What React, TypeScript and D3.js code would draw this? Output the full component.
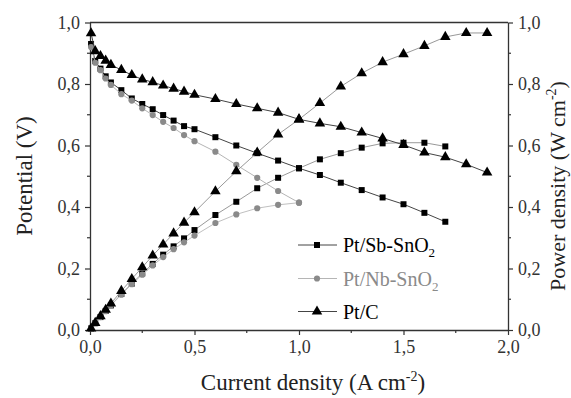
import React, { useRef, useEffect } from "react";
import * as d3 from "d3";

// current density (A cm-2)
const currentPtC = [0.005, 0.025, 0.05, 0.075, 0.1, 0.15, 0.2, 0.25, 0.3, 0.35, 0.4, 0.45, 0.5,
  0.6, 0.7, 0.8, 0.9, 1.0, 1.1, 1.2, 1.3, 1.4, 1.5, 1.6, 1.7, 1.8, 1.9];
const currentSb = currentPtC.slice(0, 25);
const currentNb = currentPtC.slice(0, 18);

// potential (V)
const potentialSb = [0.93, 0.875, 0.85, 0.825, 0.805, 0.78, 0.753, 0.735, 0.718, 0.699, 0.681, 0.663, 0.653,
  0.627, 0.6, 0.575, 0.551, 0.526, 0.504, 0.479, 0.455, 0.431, 0.409, 0.381, 0.352];
const potentialNb = [0.92, 0.869, 0.845, 0.818, 0.797, 0.767, 0.746, 0.721, 0.699, 0.677, 0.657, 0.634, 0.614,
  0.58, 0.537, 0.495, 0.452, 0.414];
const potentialPtC = [0.965, 0.907, 0.891, 0.876, 0.862, 0.846, 0.829, 0.815, 0.806, 0.795, 0.785, 0.775, 0.765,
  0.751, 0.735, 0.721, 0.707, 0.685, 0.672, 0.661, 0.642, 0.623, 0.602, 0.577, 0.562, 0.539, 0.512];

// power density (W cm-2)
const powerSb = [0.005, 0.022, 0.042, 0.062, 0.08, 0.117, 0.151, 0.184, 0.215, 0.245, 0.272, 0.298, 0.325,
  0.374, 0.417, 0.461, 0.495, 0.526, 0.555, 0.575, 0.593, 0.607, 0.609, 0.609, 0.597];
const powerNb = [0.005, 0.022, 0.042, 0.061, 0.08, 0.115, 0.149, 0.18, 0.21, 0.237, 0.263, 0.285, 0.307,
  0.348, 0.376, 0.396, 0.407, 0.414];
const powerPtC = [0.005, 0.023, 0.045, 0.066, 0.086, 0.127, 0.166, 0.204, 0.242, 0.278, 0.314, 0.349, 0.383,
  0.451, 0.516, 0.577, 0.636, 0.685, 0.738, 0.792, 0.835, 0.871, 0.897, 0.924, 0.953, 0.966, 0.966];

const xTicks = [0, 0.5, 1.0, 1.5, 2.0];
const yTicks = [0, 0.2, 0.4, 0.6, 0.8, 1.0];

const FONT = "Liberation Serif, DejaVu Serif, serif";

function App() {
  const svgRef = useRef<SVGSVGElement>(null);

  useEffect(() => {
    const W = 571, H = 398;
    const left = 90, right = 508, top = 22.5, bottom = 330;
    const svg = d3.select(svgRef.current).attr("width", W).attr("height", H)
      .attr("font-family", FONT);
    svg.selectAll("*").remove();

    const x = d3.scaleLinear().domain([0, 2]).range([left, right]);
    const y = d3.scaleLinear().domain([0, 1]).range([bottom, top]);
    const y2 = d3.scaleLinear().domain([0, 1]).range([bottom, top]);
    const fmt = (d: number) => d.toFixed(1).replace(".", ",");
    const axisColor = "#333";

    // top frame line
    svg.append("line").attr("x1", left).attr("x2", right).attr("y1", top).attr("y2", top)
      .attr("stroke", axisColor).attr("stroke-width", 1.3);

    const styleAxis = (g: any) => {
      g.attr("font-family", FONT).attr("font-size", 18);
      g.select(".domain").attr("stroke", axisColor).attr("stroke-width", 1.3);
      g.selectAll(".tick line").attr("stroke", axisColor).attr("stroke-width", 1.2);
      g.selectAll(".tick text").attr("fill", "#333");
    };

    const minorX = d3.range(0.25, 2, 0.5);
    const minorY = d3.range(0.1, 1, 0.2);

    // bottom axis
    const gx = svg.append("g").attr("transform", `translate(0,${bottom})`)
      .call(d3.axisBottom(x).tickValues(xTicks).tickFormat(fmt as any).tickSize(5).tickSizeOuter(0).tickPadding(5));
    styleAxis(gx);
    gx.selectAll(".minor").data(minorX).join("line").attr("class", "minor")
      .attr("x1", (d) => x(d)).attr("x2", (d) => x(d)).attr("y1", 0).attr("y2", 3)
      .attr("stroke", axisColor).attr("stroke-width", 1.2);

    // left axis
    const gy = svg.append("g").attr("transform", `translate(${left},0)`)
      .call(d3.axisLeft(y).tickValues(yTicks).tickFormat(fmt as any).tickSize(5).tickSizeOuter(0).tickPadding(5));
    styleAxis(gy);
    gy.selectAll(".minor").data(minorY).join("line").attr("class", "minor")
      .attr("x1", 0).attr("x2", -3).attr("y1", (d) => y(d)).attr("y2", (d) => y(d))
      .attr("stroke", axisColor).attr("stroke-width", 1.2);

    // right axis
    const gy2 = svg.append("g").attr("transform", `translate(${right},0)`)
      .call(d3.axisRight(y2).tickValues(yTicks).tickFormat(fmt as any).tickSize(5).tickSizeOuter(0).tickPadding(5));
    styleAxis(gy2);
    gy2.selectAll(".minor").data(minorY).join("line").attr("class", "minor")
      .attr("x1", 0).attr("x2", 3).attr("y1", (d) => y2(d)).attr("y2", (d) => y2(d))
      .attr("stroke", axisColor).attr("stroke-width", 1.2);

    const series = [
      { cur: currentSb, pol: potentialSb, pow: powerSb, color: "#000", polLine: "#444", powLine: "#999", symbol: d3.symbolSquare, size: 36 },
      { cur: currentNb, pol: potentialNb, pow: powerNb, color: "#8a8a8a", polLine: "#b5b5b5", powLine: "#c0c0c0", symbol: d3.symbolCircle, size: 30 },
      { cur: currentPtC, pol: potentialPtC, pow: powerPtC, color: "#000", polLine: "#444", powLine: "#999", symbol: d3.symbolTriangle, size: 48 },
    ];

    const line = d3.line<[number, number]>().x((d) => d[0]).y((d) => d[1]);

    series.forEach((s) => {
      const polPts = s.cur.map((c, i) => [x(c), y(s.pol[i])] as [number, number]);
      const powPts = s.cur.map((c, i) => [x(c), y2(s.pow[i])] as [number, number]);
      svg.append("path").attr("d", line(polPts)).attr("fill", "none").attr("stroke", s.polLine).attr("stroke-width", 1);
      svg.append("path").attr("d", line(powPts)).attr("fill", "none").attr("stroke", s.powLine).attr("stroke-width", 1);
      const sym = d3.symbol().type(s.symbol).size(s.size);
      svg.append("g").selectAll("path").data(polPts.concat(powPts)).join("path")
        .attr("d", sym() as string)
        .attr("transform", (d) => `translate(${d[0]},${d[1]})`)
        .attr("fill", s.color);
    });

    // legend
    const legend = [
      { label: "Pt/Sb-SnO", sub: "2", color: "#000", text: "#000", line: "#444", symbol: d3.symbolSquare, size: 36, yy: 245 },
      { label: "Pt/Nb-SnO", sub: "2", color: "#8a8a8a", text: "#8a8a8a", line: "#b5b5b5", symbol: d3.symbolCircle, size: 30, yy: 278.5 },
      { label: "Pt/C", sub: "", color: "#000", text: "#000", line: "#444", symbol: d3.symbolTriangle, size: 48, yy: 311.5 },
    ];
    legend.forEach((l) => {
      svg.append("line").attr("x1", 298).attr("x2", 337).attr("y1", l.yy).attr("y2", l.yy)
        .attr("stroke", l.line).attr("stroke-width", 1);
      svg.append("path").attr("d", d3.symbol().type(l.symbol).size(l.size)() as string)
        .attr("transform", `translate(317,${l.yy})`).attr("fill", l.color);
      const t = svg.append("text").attr("x", 343).attr("y", l.yy + 7)
        .attr("fill", l.text).attr("font-size", 20).text(l.label);
      if (l.sub) t.append("tspan").attr("dy", 5).attr("font-size", 13).text(l.sub);
    });

    // axis titles
    const xt = svg.append("text").attr("x", 313).attr("y", 390).attr("text-anchor", "middle")
      .attr("fill", "#222").attr("font-size", 23).text("Current density (A cm");
    xt.append("tspan").attr("dy", -9).attr("font-size", 14).text("-2");
    xt.append("tspan").attr("dy", 9).text(")");

    svg.append("text").attr("transform", "translate(32,176) rotate(-90)").attr("text-anchor", "middle")
      .attr("fill", "#222").attr("font-size", 23).text("Potential (V)");

    const rt = svg.append("text").attr("transform", "translate(565,186) rotate(-90)").attr("text-anchor", "middle")
      .attr("fill", "#222").attr("font-size", 22).text("Power density (W cm");
    rt.append("tspan").attr("dy", -9).attr("font-size", 14).text("-2");
    rt.append("tspan").attr("dy", 9).text(")");
  }, []);

  return (
    <div style={{ position: "absolute", left: 0, top: 0 }}>
      <svg ref={svgRef} style={{ display: "block", background: "#fff" }} />
    </div>
  );
}

export default App;
